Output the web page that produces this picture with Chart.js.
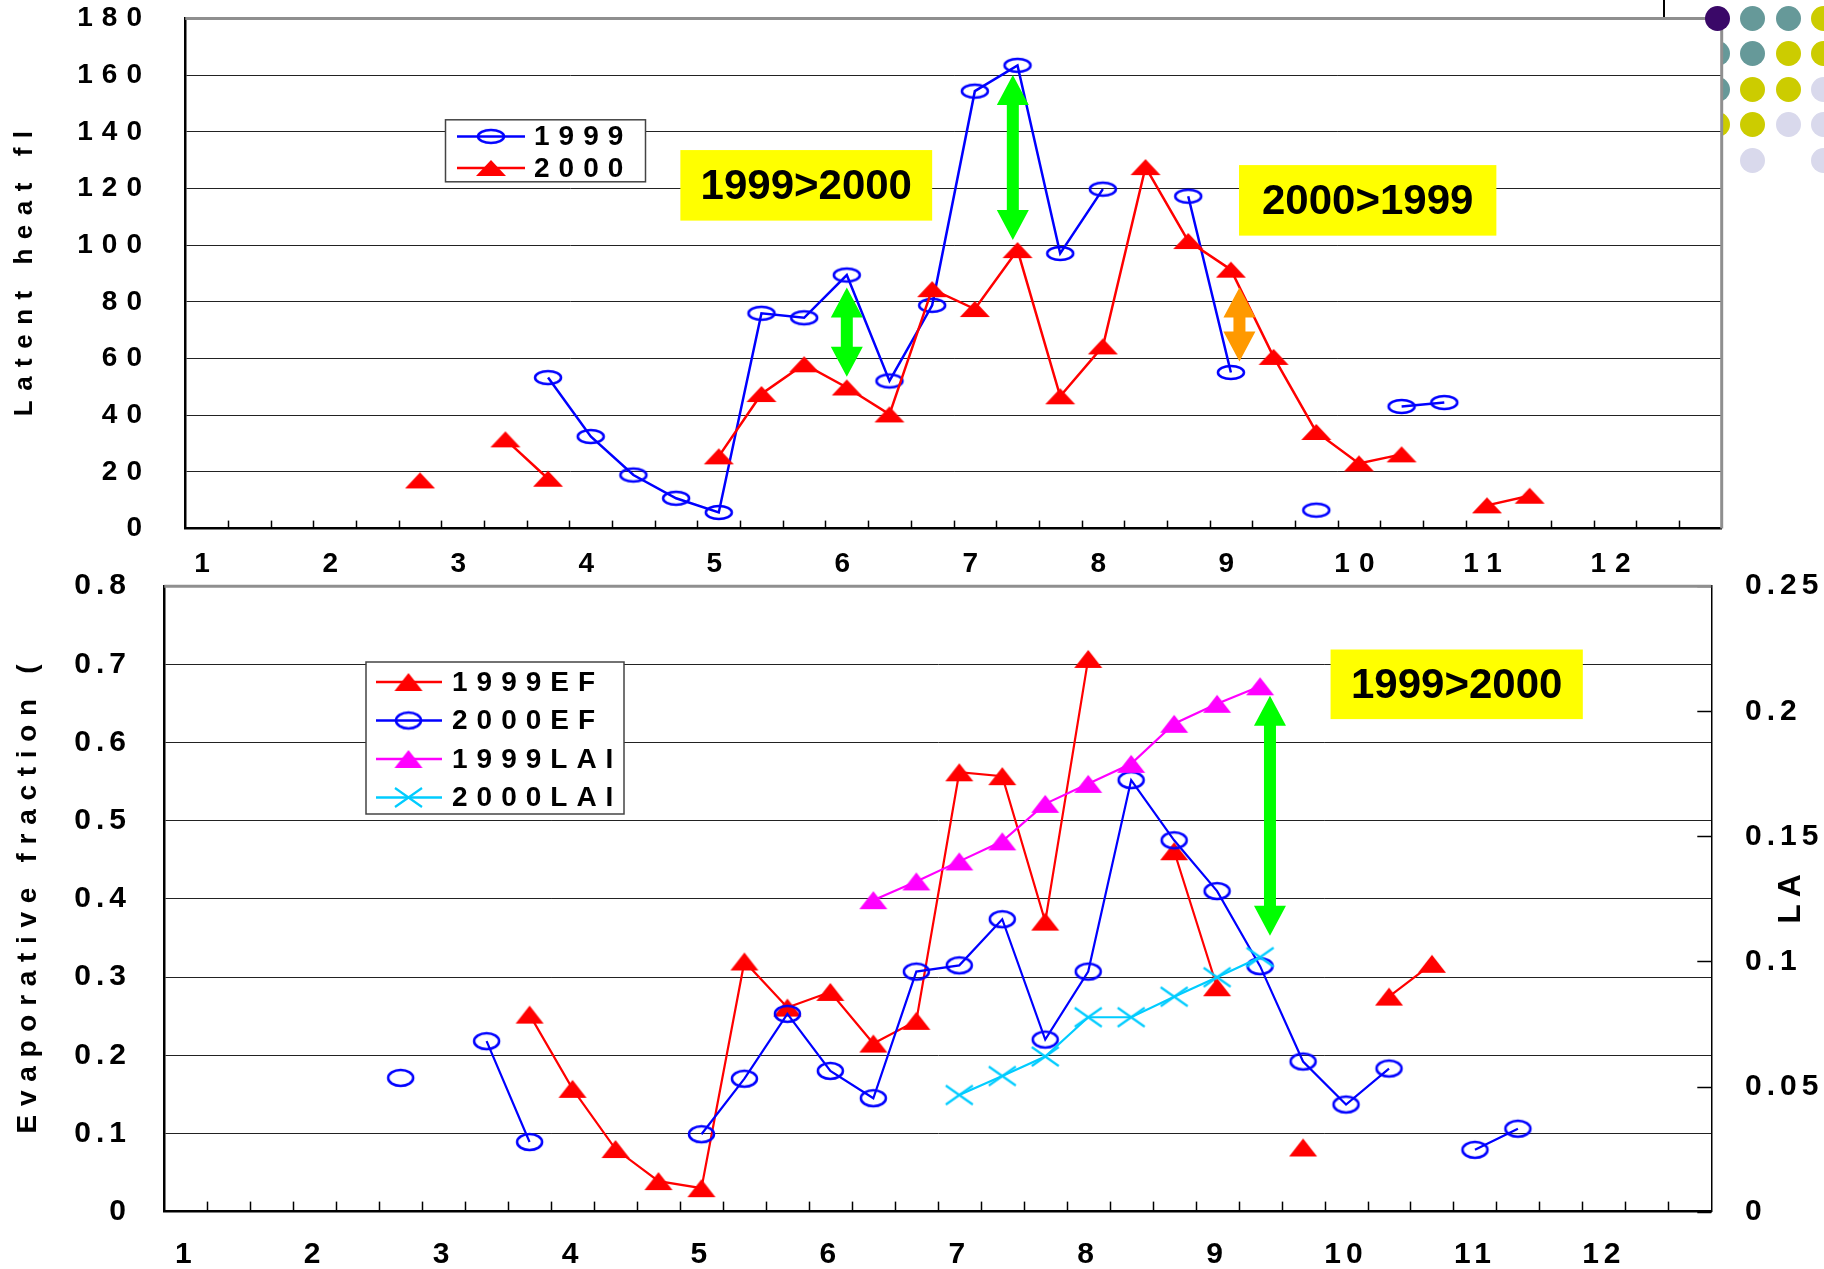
<!DOCTYPE html>
<html>
<head>
<meta charset="utf-8">
<script src="https://cdn.jsdelivr.net/npm/chart.js@4.4.1/dist/chart.umd.min.js"></script>
<style>
  html, body { margin: 0; padding: 0; background: #fff; }
  body { width: 1824px; height: 1269px; position: relative; overflow: hidden; }
  .box { position: absolute; left: 0; width: 1824px; }
  #topBox { top: 0; height: 590px; }
  #botBox { top: 560px; height: 709px; }
  .dot { position: absolute; width: 25px; height: 25px; border-radius: 50%; }
  #vline { position: absolute; left: 1663px; top: 0; width: 2px; height: 20px; background: #000; }
</style>
</head>
<body>
<div id="decor"></div>
<div id="vline"></div>
<div class="box" id="topBox"><canvas id="top"></canvas></div>
<div class="box" id="botBox"><canvas id="bottom"></canvas></div>
<script>
// month labels; each month has 3 ten-day periods (dekads)
const months = ['1','2','3','4','5','6','7','8','9','10','11','12'];
const dekads = months.flatMap(m => [m, '', '']);

// top panel: latent heat flux
const le1999 = [null,null,null,null,null,null,null,null,53.3,32.5,18.9,10.7,5.7,76.0,74.4,89.5,52.1,78.8,154.4,163.5,97.1,119.8,null,117.3,55.1,null,6.5,null,43.1,44.5,null,null,null,null,null,null];
const le2000 = [null,null,null,null,null,17.0,null,31.5,17.6,null,null,null,25.5,47.5,58.0,49.8,40.3,84.5,77.5,98.3,46.7,64.3,127.6,101.5,91.4,60.6,34.1,23.0,26.2,null,8.2,11.6,null,null,null,null];

// bottom panel: evaporative fraction (left axis) and LAI (right axis)
const ef1999 = [null,null,null,null,null,null,null,null,0.252,0.157,0.080,0.039,0.030,0.320,0.261,0.281,0.215,0.244,0.562,0.557,0.371,0.707,null,0.461,0.287,null,0.082,null,0.275,0.317,null,null,null,null,null,null];
const ef2000 = [null,null,null,null,null,0.171,null,0.218,0.089,null,null,null,0.099,0.170,0.253,0.180,0.145,0.307,0.315,0.374,0.220,0.307,0.552,0.475,0.410,0.314,0.192,0.137,0.183,null,0.079,0.106,null,null,null,null];
const lai1999 = [null,null,null,null,null,null,null,null,null,null,null,null,null,null,null,null,0.1245,0.132,0.140,0.148,0.163,0.171,0.179,0.195,0.203,0.210,null,null,null,null,null,null,null,null,null,null];
const lai2000 = [null,null,null,null,null,null,null,null,null,null,null,null,null,null,null,null,null,null,0.0466,0.0542,0.062,0.0777,0.0777,0.0859,0.0937,0.1017,null,null,null,null,null,null,null,null,null,null];

const FAMILY = "'Liberation Sans', Arial, sans-serif";
Chart.defaults.font.family = FAMILY;
Chart.defaults.color = '#000';

// slide decoration dots, top right
const dotColors = { p: '#3a0868', t: '#669999', y: '#cccc00', l: '#d9d9ec' };
const dotRows = ['ptty', 'ttyy', 'tyyl', 'yyll', '-l-l'];
dotRows.forEach((row, r) => row.split('').forEach((k, c) => {
  if (k === '-') return;
  const d = document.createElement('div');
  d.className = 'dot';
  d.style.left = (1705 + c * 35.3) + 'px';
  d.style.top = (6 + r * 35.4) + 'px';
  d.style.background = dotColors[k];
  if (k === 'p') d.style.zIndex = 5;
  document.getElementById('decor').appendChild(d);
}));

// marker images (the original markers are squashed, so draw them as small bitmaps)
function marker(kind, w, h, color) {
  const c = document.createElement('canvas');
  c.width = w + 4; c.height = h + 4;
  const g = c.getContext('2d');
  g.strokeStyle = color; g.fillStyle = color;
  if (kind === 'ellipse') {
    g.lineWidth = 2.5;
    g.beginPath(); g.ellipse(c.width / 2, c.height / 2, w / 2 - 1, h / 2 - 1, 0, 0, Math.PI * 2); g.stroke();
  } else if (kind === 'tri') {
    g.beginPath(); g.moveTo(c.width / 2, 2); g.lineTo(w + 2, h + 2); g.lineTo(2, h + 2); g.closePath(); g.fill();
  } else {
    g.lineWidth = 2.2;
    g.beginPath(); g.moveTo(2, 2); g.lineTo(w + 2, h + 2); g.moveTo(w + 2, 2); g.lineTo(2, h + 2); g.stroke();
  }
  return c;
}

function arrow(ctx, x, yTop, yBot, color) {
  const head = 30, hw = 16, sw = 6;
  ctx.fillStyle = color;
  ctx.beginPath();
  ctx.moveTo(x, yTop);
  ctx.lineTo(x + hw, yTop + head); ctx.lineTo(x + sw, yTop + head);
  ctx.lineTo(x + sw, yBot - head); ctx.lineTo(x + hw, yBot - head);
  ctx.lineTo(x, yBot);
  ctx.lineTo(x - hw, yBot - head); ctx.lineTo(x - sw, yBot - head);
  ctx.lineTo(x - sw, yTop + head); ctx.lineTo(x - hw, yTop + head);
  ctx.closePath(); ctx.fill();
}

function drawLegend(chart, L) {
  const ctx = chart.ctx;
  ctx.save();
  ctx.letterSpacing = L.spacing + 'px';
  ctx.fillStyle = '#fff'; ctx.fillRect(L.x, L.y, L.w, L.h);
  ctx.strokeStyle = '#444'; ctx.lineWidth = 1.5; ctx.strokeRect(L.x, L.y, L.w, L.h);
  chart.data.datasets.forEach((ds, i) => {
    const y = L.y + L.rowTop + i * L.rowGap;
    ctx.strokeStyle = ds.borderColor; ctx.lineWidth = 2.5;
    ctx.beginPath(); ctx.moveTo(L.x + L.line0, y); ctx.lineTo(L.x + L.line1, y); ctx.stroke();
    const img = ds.pointStyle;
    ctx.drawImage(img, L.x + L.mark - img.width / 2, y - img.height / 2);
    ctx.fillStyle = '#000'; ctx.font = L.font;
    ctx.textAlign = 'left'; ctx.textBaseline = 'middle';
    ctx.fillText(ds.label, L.x + L.text, y + 1);
  });
  ctx.restore();
}

// per-chart drawing: letter spacing, white plot, notes, legend, titles, borders, inside ticks
function deco(cfg) {
  return {
    id: 'deco',
    beforeUpdate(chart) { chart.ctx.letterSpacing = cfg.spacing + 'px'; },
    beforeDraw(chart) {
      const { ctx, chartArea: a } = chart;
      ctx.letterSpacing = cfg.spacing + 'px';
      ctx.save(); ctx.fillStyle = '#fff'; ctx.fillRect(a.left, a.top, a.width, a.height); ctx.restore();
    },
    afterDatasetsDraw(chart) {
      const { ctx } = chart, x = chart.scales.x, y = chart.scales.y;
      ctx.save();
      ctx.letterSpacing = '0px';
      cfg.notes.forEach(b => {
        const x0 = x.getPixelForValue(b.x0), x1 = x.getPixelForValue(b.x1);
        const y0 = y.getPixelForValue(b.y0), y1 = y.getPixelForValue(b.y1);
        ctx.fillStyle = '#ffff00'; ctx.fillRect(x0, y0, x1 - x0, y1 - y0);
        ctx.fillStyle = '#000'; ctx.font = 'bold 42px ' + FAMILY;
        ctx.textAlign = 'center'; ctx.textBaseline = 'middle';
        ctx.fillText(b.text, (x0 + x1) / 2, (y0 + y1) / 2 + 2);
      });
      cfg.arrows.forEach(r => {
        arrow(ctx, x.getPixelForValue(r.x), y.getPixelForValue(r.y0), y.getPixelForValue(r.y1), r.color);
      });
      ctx.restore();
      drawLegend(chart, cfg.legend);
    },
    afterDraw(chart) {
      const { ctx, chartArea: a } = chart, x = chart.scales.x;
      ctx.save();
      ctx.strokeStyle = '#000'; ctx.lineWidth = 1.5;
      const n = x.getLabels().length;
      for (let i = 1; i < n; i++) {
        const px = Math.round((x.getPixelForValue(i - 1) + x.getPixelForValue(i)) / 2) + 0.5;
        ctx.beginPath(); ctx.moveTo(px, a.bottom); ctx.lineTo(px, a.bottom - cfg.tickLen); ctx.stroke();
      }
      if (chart.scales.y1) {
        const y1 = chart.scales.y1;
        y1.ticks.forEach(t => {
          const py = Math.round(y1.getPixelForValue(t.value)) + 0.5;
          ctx.beginPath(); ctx.moveTo(a.right, py); ctx.lineTo(a.right - 14, py); ctx.stroke();
        });
      }
      // axis titles, read bottom to top
      cfg.titles.forEach(t => {
        const sc = chart.scales[t.axis];
        ctx.save();
        ctx.letterSpacing = t.spacing + 'px';
        ctx.font = t.font; ctx.fillStyle = '#000';
        ctx.textAlign = 'center'; ctx.textBaseline = 'middle';
        ctx.translate(sc.left + t.offset, (a.top + a.bottom) / 2);
        ctx.rotate(-Math.PI / 2);
        ctx.fillText(t.text, t.spacing / 2, 0);
        ctx.restore();
      });
      ctx.strokeStyle = '#8f8f8f'; ctx.lineWidth = 3;
      ctx.beginPath(); ctx.moveTo(a.left, a.top); ctx.lineTo(a.right, a.top);
      if (cfg.grayRight) ctx.lineTo(a.right, a.bottom);
      ctx.stroke();
      ctx.restore();
    }
  };
}

const tickFont = size => ({ family: FAMILY, size, weight: 'bold' });
const noPad = s => { s.paddingTop = 0; s.paddingBottom = 0; };
const trimNum = v => String(Number(v.toFixed(3)));

new Chart(document.getElementById('top'), {
  type: 'line',
  data: {
    labels: dekads,
    datasets: [
      { label: '1999', data: le1999, borderColor: '#0000ff', borderWidth: 2.5, pointStyle: marker('ellipse', 28, 15, '#0000ff'), pointRadius: 8, order: 1 },
      { label: '2000', data: le2000, borderColor: '#ff0000', borderWidth: 2.5, pointStyle: marker('tri', 30, 16, '#ff0000'), pointRadius: 8, order: 0 }
    ]
  },
  options: {
    responsive: true, maintainAspectRatio: false, animation: false,
    layout: { padding: { top: 18.6, right: 102.3, left: 0, bottom: 0 } },
    plugins: { legend: { display: false }, tooltip: { enabled: false } },
    scales: {
      x: {
        offset: true,
        grid: { display: false, drawTicks: false },
        border: { color: '#000', width: 2.5 },
        ticks: { autoSkip: false, maxRotation: 0, padding: 18.8, font: tickFont(28) },
        afterFit: s => { s.height = 61.4; }
      },
      y: {
        min: 0, max: 180,
        grid: { color: '#222', lineWidth: 1, drawTicks: false },
        border: { color: '#000', width: 2.5 },
        ticks: { stepSize: 20, padding: 34.3, font: tickFont(28) },
        afterFit: s => { s.width = 185.3; noPad(s); }
      }
    }
  },
  plugins: [deco({
    spacing: 9, tickLen: 8, grayRight: true,
    titles: [{ axis: 'y', text: 'Latent heat fl', offset: 25, font: 'bold 26px ' + FAMILY, spacing: 9.5 }],
    notes: [
      { text: '1999>2000', x0: 11.1, x1: 17.0, y0: 133.6, y1: 108.7 },
      { text: '2000>1999', x0: 24.19, x1: 30.22, y0: 128.3, y1: 103.4 }
    ],
    arrows: [
      { x: 15.0, y0: 85.1, y1: 53.6, color: '#00ff00' },
      { x: 18.89, y0: 160.1, y1: 101.9, color: '#00ff00' },
      { x: 24.2, y0: 85.1, y1: 59.0, color: '#ff9900' }
    ],
    legend: { x: 445.5, y: 119.8, w: 200, h: 62, rowTop: 16.6, rowGap: 31.6, line0: 11.5, line1: 79.5, mark: 45.5, text: 88.5, font: 'bold 28px ' + FAMILY, spacing: 9 }
  })]
});

new Chart(document.getElementById('bottom'), {
  type: 'line',
  data: {
    labels: dekads,
    datasets: [
      { label: '1999EF', data: ef1999, yAxisID: 'y', borderColor: '#ff0000', borderWidth: 2.2, pointStyle: marker('tri', 28, 18, '#ff0000'), pointRadius: 8, order: 3 },
      { label: '2000EF', data: ef2000, yAxisID: 'y', borderColor: '#0000ff', borderWidth: 2.2, pointStyle: marker('ellipse', 27, 18, '#0000ff'), pointRadius: 8, order: 2 },
      { label: '1999LAI', data: lai1999, yAxisID: 'y1', borderColor: '#ff00ff', borderWidth: 2.2, pointStyle: marker('tri', 28, 18, '#ff00ff'), pointRadius: 8, order: 1 },
      { label: '2000LAI', data: lai2000, yAxisID: 'y1', borderColor: '#00ccff', borderWidth: 2.2, pointStyle: marker('cross', 27, 19, '#00ccff'), pointRadius: 8, order: 0 }
    ]
  },
  options: {
    responsive: true, maintainAspectRatio: false, animation: false,
    layout: { padding: { top: 26.2, right: 0, left: 0, bottom: 0 } },
    plugins: { legend: { display: false }, tooltip: { enabled: false } },
    scales: {
      x: {
        offset: true,
        grid: { display: false, drawTicks: false },
        border: { color: '#000', width: 2.5 },
        ticks: { autoSkip: false, maxRotation: 0, padding: 24.8, font: tickFont(30) },
        afterFit: s => { s.height = 57.4; }
      },
      y: {
        position: 'left', min: 0, max: 0.8,
        grid: { color: '#222', lineWidth: 1, drawTicks: false },
        border: { color: '#000', width: 2.5 },
        ticks: { stepSize: 0.1, padding: 33.4, font: tickFont(30), callback: trimNum },
        afterFit: s => { s.width = 164.3; noPad(s); }
      },
      y1: {
        position: 'right', min: 0, max: 0.25,
        grid: { drawOnChartArea: false, drawTicks: false },
        border: { color: '#000', width: 1.5 },
        ticks: { stepSize: 0.05, padding: 33.7, font: tickFont(30), callback: trimNum },
        afterFit: s => { s.width = 112.7; noPad(s); }
      }
    }
  },
  plugins: [deco({
    spacing: 5, tickLen: 10, grayRight: false,
    titles: [
      { axis: 'y', text: 'Evaporative fraction (', offset: 28, font: 'bold 28px ' + FAMILY, spacing: 8.7 },
      { axis: 'y1', text: 'LA', offset: 79.7, font: 'bold 32px ' + FAMILY, spacing: 7 }
    ],
    notes: [
      { text: '1999>2000', x0: 26.64, x1: 32.51, y0: 0.719, y1: 0.630 }
    ],
    arrows: [
      { x: 25.23, y0: 0.660, y1: 0.353, color: '#00ff00' }
    ],
    legend: { x: 366, y: 102, w: 258, h: 152, rowTop: 20, rowGap: 38.5, line0: 10, line1: 76, mark: 42.5, text: 86, font: 'bold 28px ' + FAMILY, spacing: 9 }
  })]
});
</script>
</body>
</html>
